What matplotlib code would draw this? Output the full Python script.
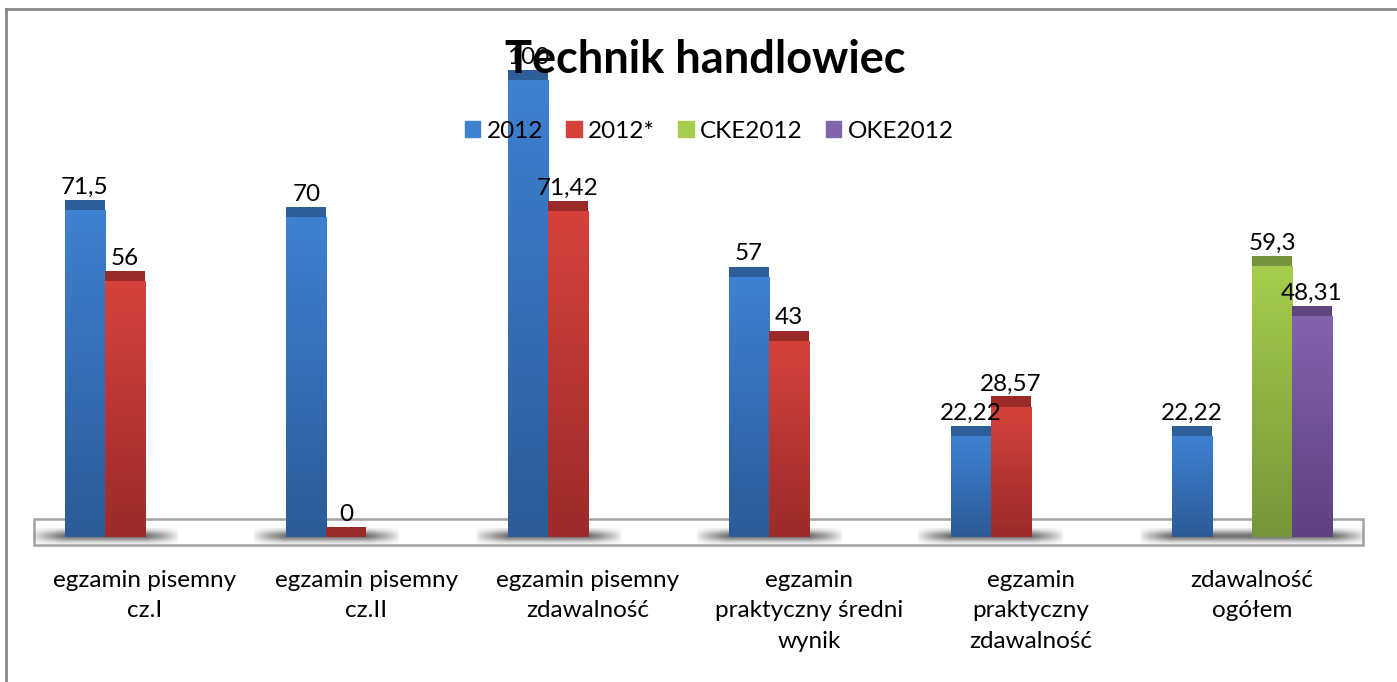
import numpy as np
import matplotlib.pyplot as plt
from matplotlib.colors import LinearSegmentedColormap
from matplotlib.patches import Patch, Rectangle
from matplotlib.lines import Line2D

plt.rcParams['font.family'] = ['Lato', 'DejaVu Sans']

categories = ["egzamin pisemny\ncz.I", "egzamin pisemny\ncz.II",
              "egzamin pisemny\nzdawalność", "egzamin\npraktyczny średni\nwynik",
              "egzamin\npraktyczny\nzdawalność", "zdawalność\nogółem"]
series_names = ["2012", "2012*", "CKE2012", "OKE2012"]
v_2012 = [71.5, 70, 100, 57, 22.22, 22.22]
v_2012s = [56, 0, 71.42, 43, 28.57, None]
v_cke = [None, None, None, None, None, 59.3]
v_oke = [None, None, None, None, None, 48.31]
series = [v_2012, v_2012s, v_cke, v_oke]

# (top, bottom, cap) colours for each series
colors = [("#3f81d2", "#2c5b97", "#2d5e99"),
          ("#d5423c", "#9c2b29", "#9a2a28"),
          ("#a6cd4c", "#76953a", "#76923c"),
          ("#8264ae", "#5d4180", "#5f4580")]

W = 0.1807      # bar width
CAP = 2.19      # height of the darker top face
offsets = [-1.5, -0.5, 0.5, 1.5]
FS = 17.5

fig = plt.figure(figsize=(13.97, 6.82), dpi=100)
ax = fig.add_axes([0, 0, 1, 1])
ax.axis('off')

# floor of the 3D chart
ax.add_patch(Rectangle((-0.5, -1.75), 6, 5.69, fill=False, ec='#a3a3a3',
                       lw=1.8, zorder=1))

grad = np.linspace(0, 1, 256).reshape(-1, 1)

for i in range(len(categories)):
    xs = [i + offsets[k] * W for k in range(4) if series[k][i] is not None]
    if not xs:
        continue
    x0, x1 = min(xs) - W / 2 - 0.15, max(xs) + W / 2 + 0.15
    # shadow under the bars
    nx, ny = 200, 40
    hx = np.ones(nx)
    ramp = int(nx * 0.15 / (x1 - x0))
    hx[:ramp] = np.linspace(0, 1, ramp) ** 0.7
    hx[-ramp:] = np.linspace(1, 0, ramp) ** 0.7
    vy = np.exp(-((np.linspace(-1, 1, ny)) ** 2) / 0.5)
    sh = np.zeros((ny, nx, 4))
    sh[..., :3] = 0.45
    sh[..., 3] = np.outer(vy, hx)
    ax.imshow(sh, extent=[x0, x1, -1.5, 1.9], aspect='auto', zorder=2,
              interpolation='bilinear')

for k, vals in enumerate(series):
    top, bot, cap = colors[k]
    cmap = LinearSegmentedColormap.from_list("g%d" % k, [bot, top])
    for i, v in enumerate(vals):
        if v is None:
            continue
        x = i + offsets[k] * W
        if v > 0:
            b = ax.bar(x, v, width=W, color=top, zorder=3)[0]
            im = ax.imshow(grad, extent=[x - W / 2, x + W / 2, 0, v], cmap=cmap,
                           aspect='auto', origin='lower', zorder=3)
            im.set_clip_path(b)
        ax.bar(x, CAP, bottom=v, width=W, color=cap, zorder=4)
        ax.annotate(f"{v:g}".replace('.', ','), (x, v + CAP), xytext=(0, 1.5),
                    textcoords='offset points', ha='center', va='bottom',
                    fontsize=FS, zorder=6)

for i, cat in enumerate(categories):
    ax.text(i, -7.2, cat, ha='center', va='top', fontsize=FS, linespacing=1.55)

ax.set_xlim(-0.655, 5.655)
ax.set_ylim(-31.7, 117.5)

fig.text(705 / 1397, 1 - 60 / 682, "Technik handlowiec", ha='center', va='center',
         fontsize=32.5, fontweight='bold', zorder=5)

handles = [Patch(color=c[0]) for c in colors]
fig.legend(handles, series_names, loc='center', bbox_to_anchor=(709 / 1397, 1 - 131 / 682),
           ncol=4, frameon=False, fontsize=FS, handlelength=0.65, handleheight=0.65,
           handletextpad=0.25, columnspacing=0.95)

# outer frame (left and top edges visible)
fig.add_artist(Line2D([6 / 1397, 6 / 1397], [0, 1 - 9 / 682], color='#888888', lw=2))
fig.add_artist(Line2D([6 / 1397, 1], [1 - 9 / 682, 1 - 9 / 682], color='#888888', lw=2))

fig.savefig("out.png", dpi=100)
